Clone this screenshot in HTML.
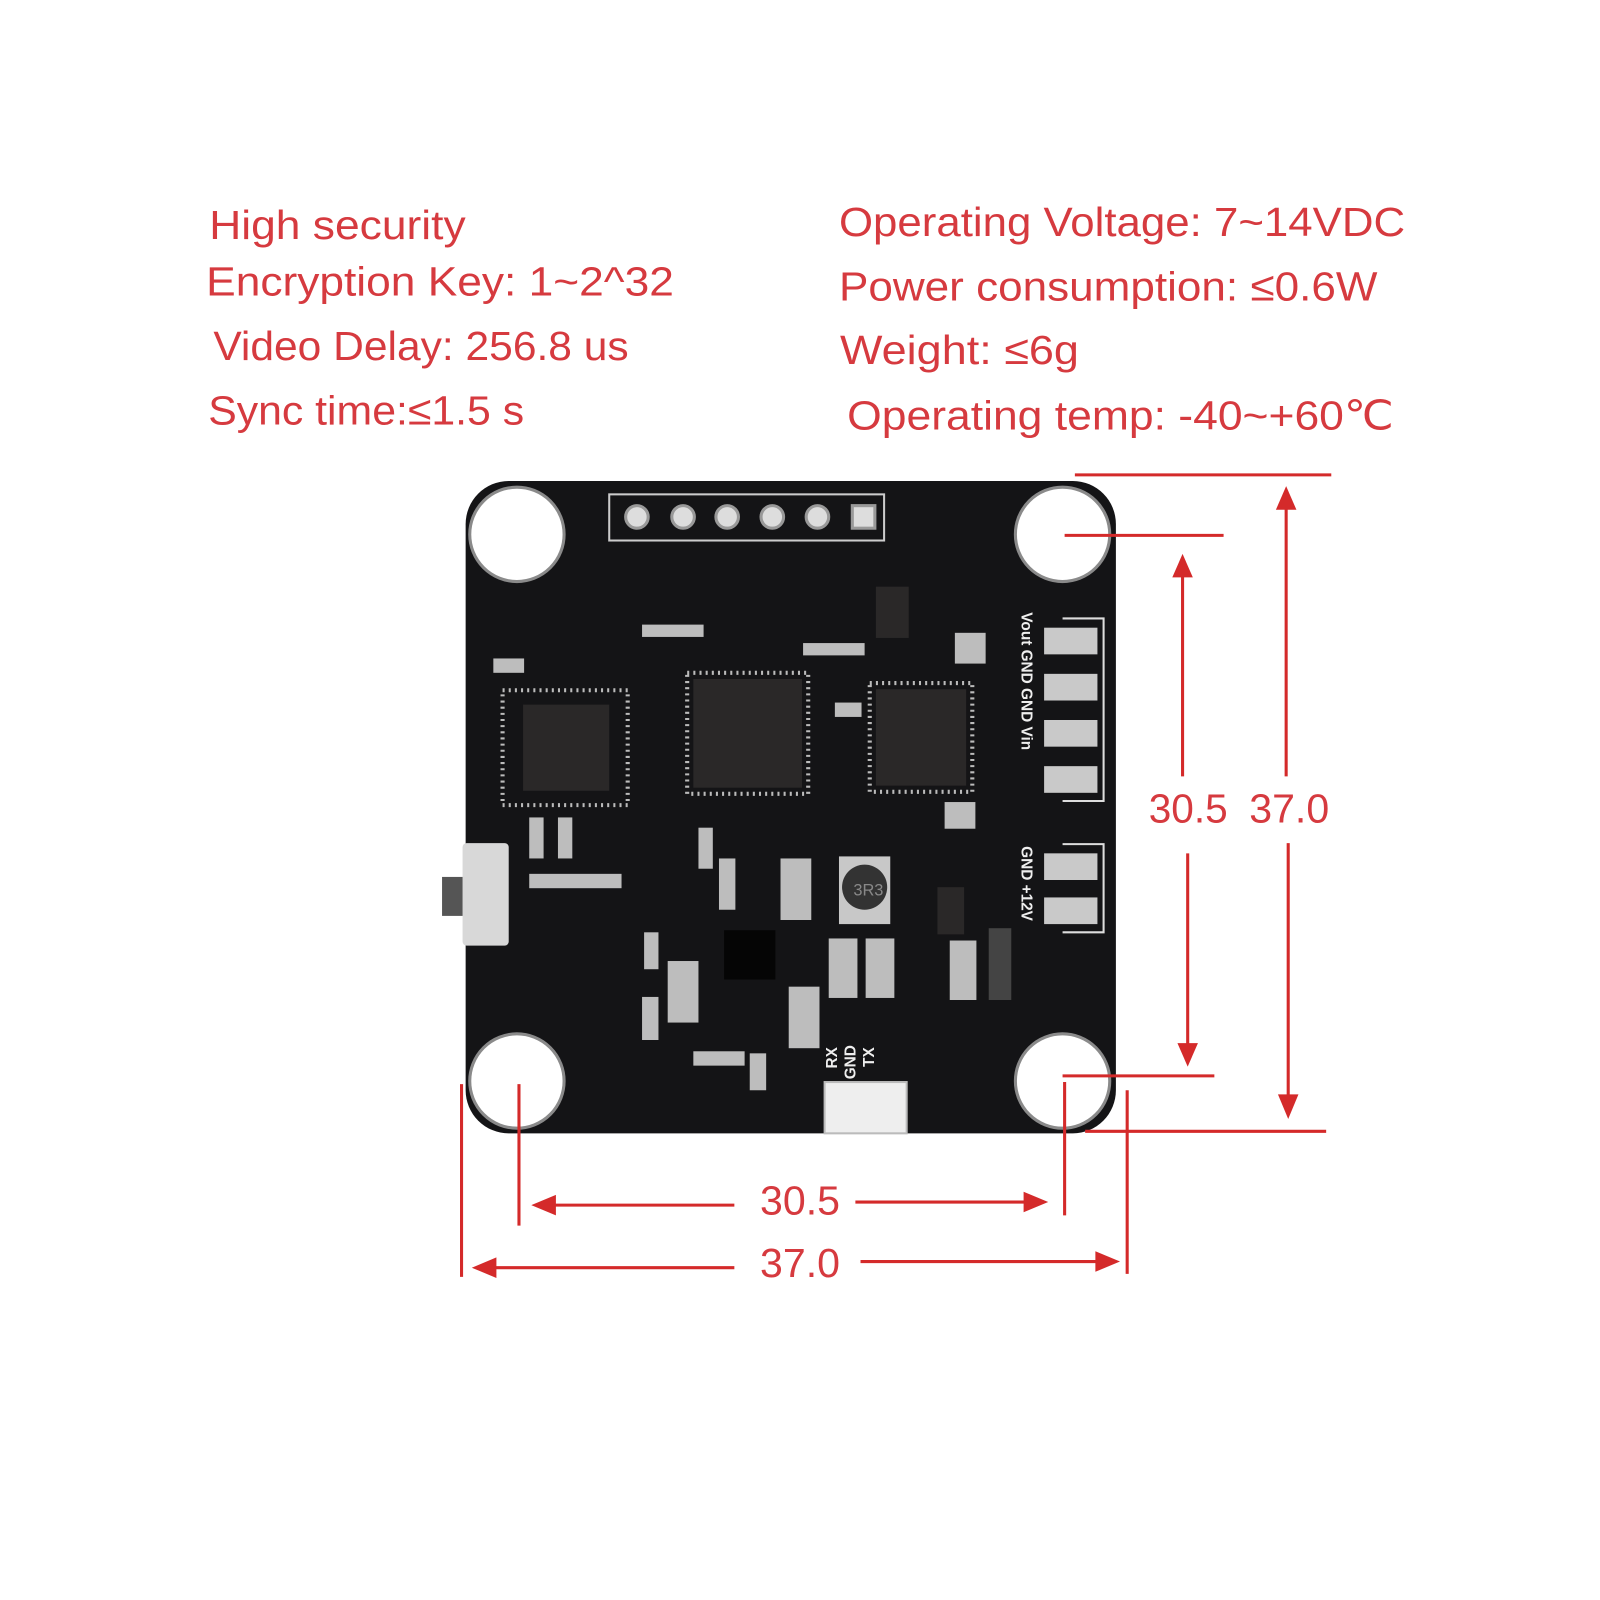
<!DOCTYPE html>
<html><head><meta charset="utf-8"><style>
html,body{margin:0;padding:0;background:#fff;}
svg{display:block;}
text{font-family:"Liberation Sans",sans-serif;}
</style></head><body>
<svg width="1600" height="1600" viewBox="0 0 1560 1560" xmlns="http://www.w3.org/2000/svg">
<rect width="1560" height="1560" fill="#fff"/>
<g transform="translate(-4,-3)">
<g fill="#d63a3f" font-size="40">
<text x="208" y="236" textLength="250" lengthAdjust="spacingAndGlyphs">High security</text>
<text x="205" y="291" textLength="456" lengthAdjust="spacingAndGlyphs">Encryption Key: 1~2^32</text>
<text x="212" y="354" textLength="405" lengthAdjust="spacingAndGlyphs">Video Delay: 256.8 us</text>
<text x="207" y="417" textLength="308" lengthAdjust="spacingAndGlyphs">Sync time:≤1.5 s</text>
<text x="822" y="233" textLength="552" lengthAdjust="spacingAndGlyphs">Operating Voltage: 7~14VDC</text>
<text x="822" y="296" textLength="525" lengthAdjust="spacingAndGlyphs">Power consumption: ≤0.6W</text>
<text x="823" y="358" textLength="233" lengthAdjust="spacingAndGlyphs">Weight: ≤6g</text>
<text x="830" y="422" textLength="533" lengthAdjust="spacingAndGlyphs">Operating temp: -40~+60℃</text>
<text x="1124" y="805" textLength="77" lengthAdjust="spacingAndGlyphs">30.5</text>
<text x="1222" y="805" textLength="78" lengthAdjust="spacingAndGlyphs">37.0</text>
<text x="745" y="1187" textLength="78" lengthAdjust="spacingAndGlyphs">30.5</text>
<text x="745" y="1248" textLength="78" lengthAdjust="spacingAndGlyphs">37.0</text>
</g>
<rect x="458" y="472" width="634" height="636" rx="42" fill="#141416"/>
<g fill="#fff" stroke="#8a8a8a" stroke-width="3">
<circle cx="508" cy="524" r="46"/><circle cx="1040" cy="524" r="46"/>
<circle cx="508" cy="1057" r="46"/><circle cx="1040" cy="1057" r="46"/>
</g>
<rect x="598" y="485" width="268" height="45" fill="none" stroke="#ccc" stroke-width="2"/>
<g fill="#ddd" stroke="#999" stroke-width="3">
<circle cx="625" cy="507" r="11"/><circle cx="670" cy="507" r="11"/><circle cx="713" cy="507" r="11"/>
<circle cx="757" cy="507" r="11"/><circle cx="801" cy="507" r="11"/><rect x="835" y="496" width="22" height="22"/>
</g>
<g fill="#2a2828">
<rect x="514" y="690" width="84" height="84"/>
<rect x="680" y="665" width="106" height="106"/>
<rect x="858" y="675" width="88" height="94"/>
<rect x="710" y="910" width="50" height="48" fill="#050505"/>
<rect x="918" y="868" width="26" height="46"/>
<rect x="858" y="575" width="32" height="50"/>
</g>
<g stroke="#bbb" stroke-width="4" stroke-dasharray="2 4" fill="none">
<rect x="494" y="676" width="122" height="112"/>
<rect x="674" y="659" width="118" height="118"/>
<rect x="852" y="669" width="100" height="106"/>
</g>
<rect x="822" y="838" width="50" height="66" fill="#c8c8c8"/>
<circle cx="847" cy="868" r="22" fill="#333"/>
<text x="836" y="876" font-size="16" fill="#888">3R3</text>
<g fill="#c9c9c9">
<rect x="1022" y="615" width="52" height="26"/><rect x="1022" y="660" width="52" height="26"/>
<rect x="1022" y="705" width="52" height="26"/><rect x="1022" y="750" width="52" height="26"/>
<rect x="1022" y="835" width="52" height="26"/><rect x="1022" y="878" width="52" height="26"/>
</g>
<g fill="none" stroke="#ddd" stroke-width="2">
<path d="M1040 606 H1080 V784 H1040"/><path d="M1040 826 H1080 V912 H1040"/>
</g>
<g fill="#eee" font-size="15" font-weight="bold">
<text transform="translate(1000,600) rotate(90)">Vout GND GND Vin</text>
<text transform="translate(1000,828) rotate(90)">GND +12V</text>
<text transform="translate(856,1024) rotate(-90)" text-anchor="end">TX</text>
<text transform="translate(838,1022) rotate(-90)" text-anchor="end">GND</text>
<text transform="translate(820,1024) rotate(-90)" text-anchor="end">RX</text>
</g>
<g fill="#bdbdbd">
<rect x="630" y="612" width="60" height="12"/><rect x="787" y="630" width="60" height="12"/>
<rect x="485" y="645" width="30" height="14"/><rect x="520" y="800" width="14" height="40"/>
<rect x="548" y="800" width="14" height="40"/><rect x="520" y="855" width="90" height="14"/>
<rect x="685" y="810" width="14" height="40"/><rect x="705" y="840" width="16" height="50"/>
<rect x="765" y="840" width="30" height="60"/><rect x="632" y="912" width="14" height="36"/>
<rect x="655" y="940" width="30" height="60"/><rect x="630" y="975" width="16" height="42"/>
<rect x="773" y="965" width="30" height="60"/><rect x="812" y="918" width="28" height="58"/>
<rect x="848" y="918" width="28" height="58"/><rect x="930" y="920" width="26" height="58"/>
<rect x="968" y="908" width="22" height="70" fill="#444"/><rect x="935" y="620" width="30" height="30"/>
<rect x="925" y="785" width="30" height="26"/><rect x="680" y="1028" width="50" height="14"/>
<rect x="735" y="1030" width="16" height="36"/><rect x="818" y="688" width="26" height="14"/>
</g>
<rect x="455" y="825" width="45" height="100" rx="4" fill="#d8d8d8"/>
<rect x="435" y="858" width="20" height="38" fill="#555"/>
<rect x="808" y="1058" width="80" height="50" fill="#eee" stroke="#bbb" stroke-width="2"/>
<g stroke="#d42a2a" stroke-width="3" fill="none">
<path d="M1052 466 H1302"/><path d="M1042 525 H1197"/>
<path d="M1040 1052 H1188"/><path d="M1062 1106 H1297"/>
<path d="M1157 560 V760"/><path d="M1162 835 V1025"/>
<path d="M1258 495 V760"/><path d="M1260 825 V1075"/>
<path d="M454 1060 V1248"/><path d="M510 1060 V1198"/>
<path d="M1042 1058 V1188"/><path d="M1103 1066 V1245"/>
<path d="M540 1178 H720"/><path d="M838 1175 H1008"/>
<path d="M482 1239 H720"/><path d="M843 1233 H1078"/>
</g>
<g fill="#d42a2a">
<path d="M1157 543 L1147 566 L1167 566Z"/><path d="M1162 1043 L1152 1020 L1172 1020Z"/>
<path d="M1258 477 L1248 500 L1268 500Z"/><path d="M1260 1094 L1250 1070 L1270 1070Z"/>
<path d="M522 1178 L546 1168 L546 1188Z"/><path d="M1026 1175 L1002 1165 L1002 1185Z"/>
<path d="M464 1239 L488 1229 L488 1249Z"/><path d="M1096 1233 L1072 1223 L1072 1243Z"/>
</g>
</g>
</svg>
</body></html>
